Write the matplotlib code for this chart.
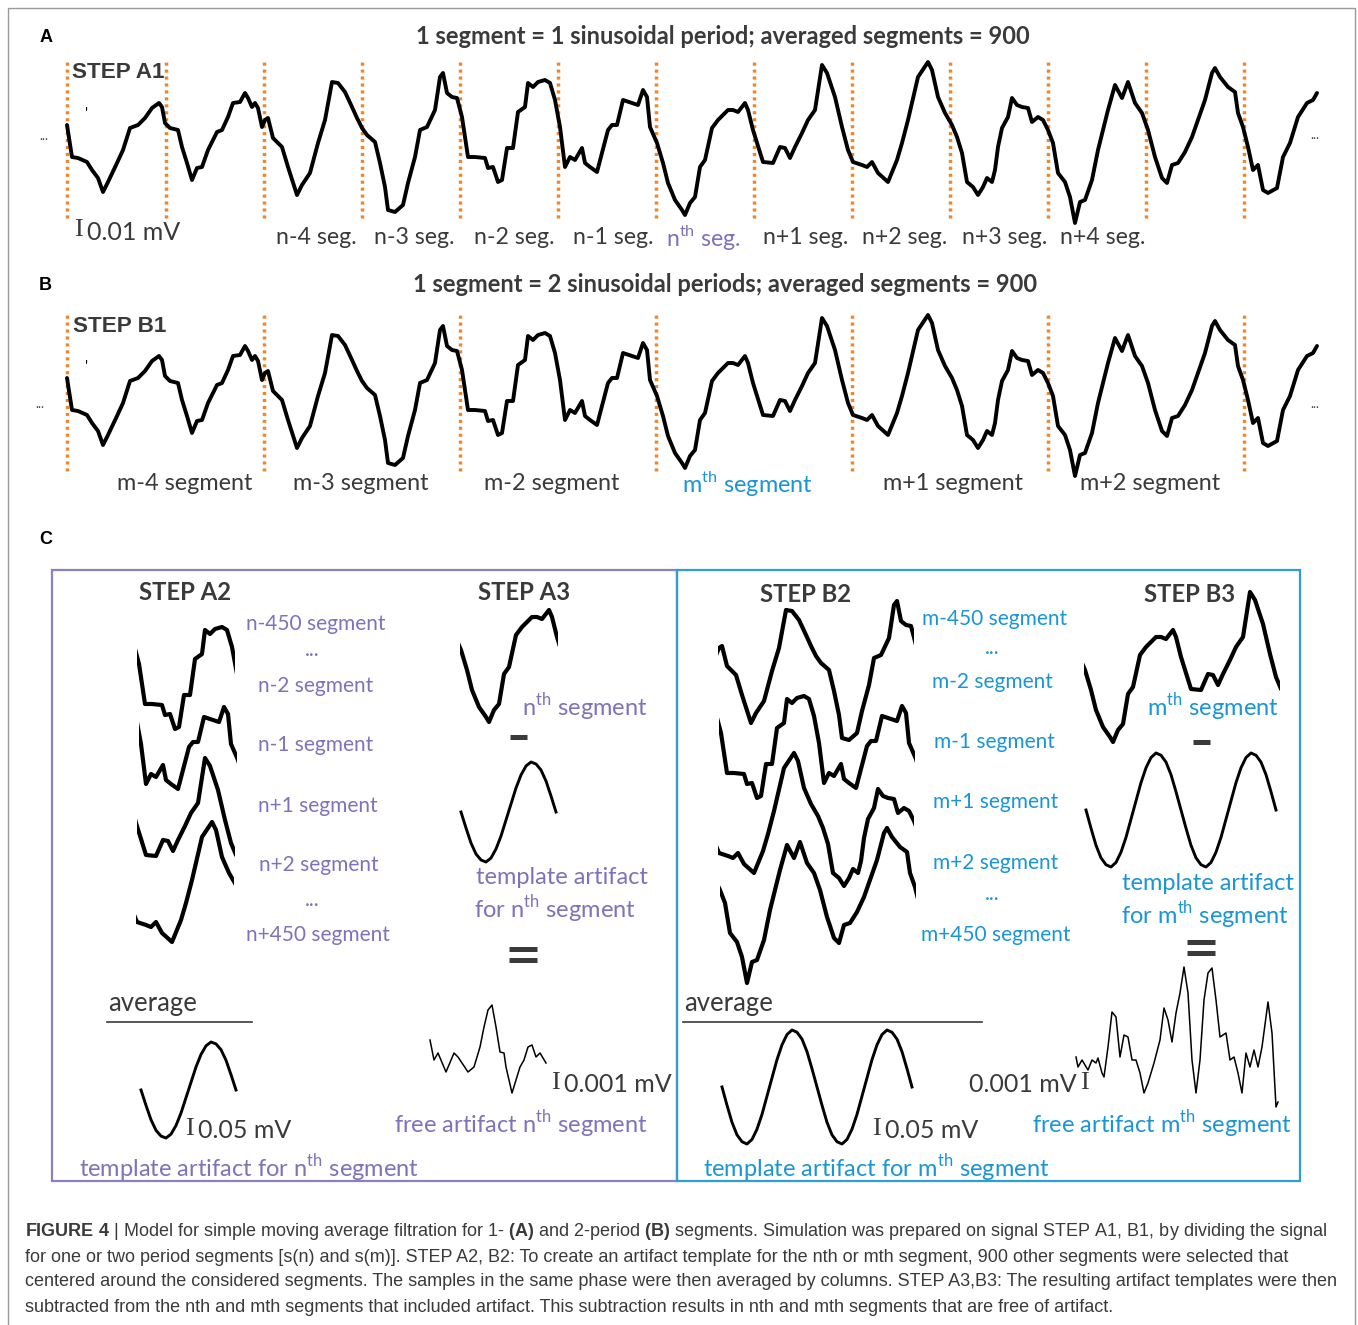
import numpy as np
import matplotlib.pyplot as plt
from matplotlib.patches import Rectangle

plt.rcParams['font.family'] = ['Lato', 'DejaVu Sans']
plt.rcParams['mathtext.fontset'] = 'custom'
plt.rcParams['mathtext.rm'] = 'Lato'
plt.rcParams['mathtext.bf'] = 'Liberation Sans:bold'

W, H = 1358, 1325
PURPLE = '#7F72BA'
BLUE = '#1A95D5'
ORANGE = '#F0862A'
DARK = '#3A3A3A'

# --- signal STEP A1 / B1 (sample index, amplitude) ---
sig_t = [67, 72, 78, 87, 92, 98, 103, 108, 117, 123, 130, 138, 145, 152, 159, 162, 165, 170,
         178, 182, 187, 192, 197, 202, 208, 217, 222, 228, 233, 240, 245, 248, 252, 255, 258,
         262, 265, 268, 273, 282, 288, 297, 302, 310, 318, 325, 332, 338, 345, 352, 357, 362,
         367, 375, 380, 385, 388, 395, 403, 408, 415, 420, 427, 435, 440, 443, 447, 452, 457,
         462, 468, 475, 485, 488, 493, 498, 502, 507, 513, 518, 525, 528, 533, 538, 545, 550,
         555, 560, 565, 570, 575, 582, 585, 590, 597, 602, 608, 612, 617, 623, 632, 638, 643,
         647, 650, 657, 663, 668, 675, 682, 685, 690, 695, 700, 705, 712, 718, 728, 733, 738,
         745, 748, 753, 763, 773, 780, 785, 790, 795, 802, 808, 815, 822, 827, 835, 842, 848,
         853, 862, 867, 872, 878, 888, 897, 902, 908, 918, 928, 932, 938, 945, 952, 957, 962,
         967, 973, 978, 983, 987, 992, 995, 998, 1002, 1008, 1012, 1017, 1022, 1028, 1032,
         1038, 1043, 1048, 1053, 1058, 1065, 1070, 1075, 1080, 1085, 1092, 1098, 1108, 1115,
         1122, 1128, 1135, 1142, 1148, 1155, 1162, 1167, 1172, 1178, 1185, 1192, 1198, 1205,
         1212, 1215, 1220, 1228, 1235, 1238, 1243, 1248, 1253, 1258, 1263, 1268, 1277, 1283,
         1290, 1298, 1307, 1313, 1317]
sig_v = [105, 73, 72, 68, 60, 52, 38, 48, 67, 80, 102, 105, 112, 122, 127, 123, 107, 102,
         100, 83, 67, 50, 62, 63, 80, 98, 100, 113, 127, 128, 137, 132, 123, 127, 122,
         103, 110, 112, 92, 83, 63, 35, 45, 57, 87, 110, 148, 147, 138, 123, 112, 102,
         95, 88, 67, 43, 20, 18, 25, 47, 73, 100, 103, 120, 153, 157, 137, 133, 132,
         113, 73, 73, 72, 62, 63, 48, 50, 82, 82, 118, 123, 147, 143, 148, 150, 147,
         130, 103, 63, 73, 70, 82, 67, 63, 58, 77, 100, 105, 105, 130, 127, 125, 140,
         133, 103, 87, 67, 47, 30, 20, 15, 27, 33, 63, 70, 102, 110, 120, 120, 118,
         127, 120, 100, 68, 67, 83, 82, 72, 83, 97, 110, 120, 165, 157, 133, 103, 80,
         68, 65, 63, 68, 57, 48, 70, 87, 110, 153, 168, 160, 133, 117, 105, 93, 77,
         48, 43, 35, 43, 52, 48, 60, 83, 102, 113, 132, 125, 123, 122, 108,
         113, 110, 100, 87, 57, 48, 33, 7, 28, 30, 50, 80, 120, 145,
         132, 148, 127, 117, 100, 73, 52, 47, 65, 67, 78, 93, 110, 130,
         157, 162, 153, 143, 138, 117, 103, 83, 60, 65, 40, 37, 42, 73,
         87, 113, 127, 130, 137]
seg_edges = [67, 166, 264, 362, 460, 558, 656, 754, 852, 950, 1048, 1146, 1244]

labels_a = ['n-4 seg.', 'n-3 seg.', 'n-2 seg.', 'n-1 seg.', r'n$^{\mathrm{th}}$ seg.',
            'n+1 seg.', 'n+2 seg.', 'n+3 seg.', 'n+4 seg.']
labels_b = ['m-4 segment', 'm-3 segment', 'm-2 segment', r'm$^{\mathrm{th}}$ segment',
            'm+1 segment', 'm+2 segment']

# averaged artifact template, one period
tmpl_t = [0, 5, 10, 15, 20, 25, 30, 35, 40, 45, 50, 55, 60, 65, 70, 75, 80, 85, 90, 95]
tmpl_v = [0, -16, -31, -42, -48, -50, -46, -37, -24, -8, 8, 24, 37, 46, 50, 48, 42, 31, 16, 0]
tmpl2_t = tmpl_t + [t + 95 for t in tmpl_t[1:]]
tmpl2_v = tmpl_v + tmpl_v[1:]

# artifact-free segments
free_a_t = [0, 4, 8, 16, 24, 28, 38, 44, 50, 54, 58, 62, 66, 70, 74, 76, 82, 86, 90, 94,
            98, 102, 106, 110, 116]
free_a_v = [60, 40, 47, 28, 47, 43, 28, 33, 53, 73, 90, 95, 73, 48, 47, 33, 7, 20, 33, 40,
            53, 55, 43, 47, 37]
free_b_t = [0, 2, 6, 12, 16, 20, 22, 26, 28, 32, 36, 40, 44, 48, 52, 56, 60, 64, 68, 72,
            78, 84, 88, 92, 96, 100, 104, 108, 112, 116, 120, 124, 128, 132, 136, 140, 144,
            150, 154, 158, 162, 166, 170, 174, 178, 182, 186, 192, 196, 200, 202]
free_b_v = [53, 43, 50, 40, 50, 47, 52, 37, 33, 63, 98, 93, 53, 75, 73, 50, 50, 37, 17, 27,
            47, 70, 102, 90, 68, 97, 117, 143, 117, 50, 17, 50, 110, 137, 142, 110, 73,
            77, 50, 53, 37, 17, 57, 43, 60, 43, 63, 108, 77, 3, 8]

fig = plt.figure(figsize=(W / 100, H / 100), dpi=100)
ov = fig.add_axes([0, 0, 1, 1])
ov.set_xlim(0, W)
ov.set_ylim(H, 0)
ov.axis('off')


def box_axes(x0, y0, x1, y1, xlim, ylim):
    ax = fig.add_axes([x0 / W, 1 - y1 / H, (x1 - x0) / W, (y1 - y0) / H])
    ax.set_xlim(*xlim)
    ax.set_ylim(*ylim)
    ax.axis('off')
    return ax


def trace_axes(t0, t1, left, base, sx=1.0, sy=1.0, vlo=-10, vhi=200):
    # 1 sample = sx px, 1 amplitude unit = sy px; base = pixel row of v = 0
    return box_axes(left, base - vhi * sy, left + (t1 - t0) * sx, base - vlo * sy,
                    (t0, t1), (vlo, vhi))


# ---- A and B: full signal ----
for top, edges in [(40, seg_edges), (293, seg_edges[::2])]:
    ax = box_axes(60, top, 1330, top + 200, (60, 1330), (-10, 190))
    ax.vlines(edges, 12, 168, colors=ORANGE, lw=2.5, linestyles=(0, (0.9, 1.1)))
    ax.plot(sig_t, sig_v, color='black', lw=2.8, solid_joinstyle='round',
            solid_capstyle='round')
    ov.text(87, top + 74, "'", fontsize=11, ha='center', va='center', color='black')

# panel letters and titles
for x, y, s in [(46, 37, 'A'), (45, 286, 'B'), (46, 539, 'C')]:
    ov.text(x, y, s, fontsize=13, fontweight='bold', family='Liberation Sans',
            ha='center', va='center', color='black')
ov.text(723, 36, '1 segment = 1 sinusoidal period; averaged segments = 900', fontsize=17,
        fontweight='bold', ha='center', va='center', color=DARK)
ov.text(725, 285, '1 segment = 2 sinusoidal periods; averaged segments = 900', fontsize=17,
        fontweight='bold', ha='center', va='center', color=DARK)
ov.text(72, 72, 'STEP A1', fontsize=16.2, fontweight='bold', family='Liberation Sans',
        ha='left', va='center', color=DARK)
ov.text(73, 327, 'STEP B1', fontsize=16.2, fontweight='bold', family='Liberation Sans',
        ha='left', va='center', color=DARK)
ov.text(78, 230, 'I', fontsize=19, family='Liberation Serif', ha='center', va='center',
        color=DARK)
ov.text(87, 233, '0.01 mV', fontsize=18, ha='left', va='center', color=DARK)
for x, y in [(44, 136), (1315, 135), (40, 404), (1315, 404)]:
    ov.text(x, y, '...', fontsize=9, ha='center', va='center', color=DARK)

for cx, s in zip([316, 414, 514, 613, 703, 806, 905, 1005, 1103], labels_a):
    ov.text(cx, 238, s, fontsize=16.7, ha='center', va='center',
            color=PURPLE if 'th' in s else DARK)
for cx, s in zip([185, 361, 552, 748, 953, 1150], labels_b):
    ov.text(cx, 484, s, fontsize=16.9, ha='center', va='center',
            color=BLUE if 'th' in s else DARK)

# ---- C: boxes ----
ov.add_patch(Rectangle((52, 570), 625, 611, fill=False, ec='#8B80C2', lw=1.6))
ov.add_patch(Rectangle((677, 570), 623, 611, fill=False, ec='#2C9FDA', lw=1.6))

# segments taken from the signal: (t0, t1, left px, baseline px)
for t0, t1, left, base in [(460, 558, 137, 777), (558, 656, 139, 847),
                           (754, 852, 137, 923), (852, 950, 136, 990),
                           (656, 754, 460, 737),
                           (264, 460, 718, 758), (460, 656, 719, 846),
                           (852, 1048, 718, 921), (1048, 1244, 720, 990),
                           (656, 852, 1084, 757)]:
    ax = trace_axes(t0, t1, left, base)
    ax.plot(sig_t, sig_v, color='black', lw=3.0, solid_joinstyle='round')

# templates
for tt, tv, left, base, sy in [(tmpl_t, tmpl_v, 461, 812, 1.0),
                               (tmpl_t, tmpl_v, 141, 1090, 0.96),
                               (tmpl2_t, tmpl2_v, 1086, 810, 1.14),
                               (tmpl2_t, tmpl2_v, 722, 1087, 1.14)]:
    ax = trace_axes(tt[0], tt[-1], left, base, sy=sy, vlo=-60, vhi=60)
    ax.plot(tt, tv, color='black', lw=2.1, clip_on=False, solid_joinstyle='round')

# artifact-free results
ax = trace_axes(0, 116, 430, 1100, vlo=0, vhi=100)
ax.plot(free_a_t, free_a_v, color='black', lw=1.1, clip_on=False)
ax = trace_axes(0, 202, 1076, 1110, vlo=0, vhi=150)
ax.plot(free_b_t, free_b_v, color='black', lw=1.1, clip_on=False)

# C text
for x, y, s in [(185, 593, 'STEP A2'), (524, 593, 'STEP A3'), (806, 594, 'STEP B2'),
                (1190, 595, 'STEP B3')]:
    ov.text(x, y, s, fontsize=17.2, fontweight='bold', ha='center', va='center', color=DARK)

a2_small = [('n-450 segment', 316, 624), ('...', 312, 650), ('n-2 segment', 316, 686),
            ('n-1 segment', 316, 745), ('n+1 segment', 318, 806), ('n+2 segment', 319, 865),
            ('...', 312, 900), ('n+450 segment', 318, 935)]
a_big = [(r'n$^{\mathrm{th}}$ segment', 585, 707), ('template artifact', 562, 878),
         (r'for n$^{\mathrm{th}}$ segment', 555, 909),
         (r'template artifact for n$^{\mathrm{th}}$ segment', 249, 1168),
         (r'free artifact n$^{\mathrm{th}}$ segment', 521, 1124)]
b2_small = [('m-450 segment', 995, 619), ('...', 992, 648), ('m-2 segment', 992, 682),
            ('m-1 segment', 994, 742), ('m+1 segment', 996, 802), ('m+2 segment', 996, 863),
            ('...', 992, 894), ('m+450 segment', 996, 935)]
b_big = [(r'm$^{\mathrm{th}}$ segment', 1213, 707), ('template artifact', 1208, 884),
         (r'for m$^{\mathrm{th}}$ segment', 1205, 915),
         (r'template artifact for m$^{\mathrm{th}}$ segment', 876, 1168),
         (r'free artifact m$^{\mathrm{th}}$ segment', 1162, 1124)]
for labs, col, fs in [(a2_small, PURPLE, 15), (a_big, PURPLE, 17),
                      (b2_small, BLUE, 15), (b_big, BLUE, 17)]:
    for s, x, y in labs:
        ov.text(x, y, s, fontsize=fs, ha='center', va='center', color=col)

# minus and equals signs between the steps
for x0, x1, y in [(510, 527, 737), (1193, 1210, 742)]:
    ov.plot([x0, x1], [y, y], color=DARK, lw=3.6, solid_capstyle='butt')
for x0, x1, y in [(509, 537, 949), (1187, 1215, 942)]:
    ov.plot([x0, x1], [y, y], color=DARK, lw=3.6, solid_capstyle='butt')
    ov.plot([x0, x1], [y + 11, y + 11], color=DARK, lw=3.6, solid_capstyle='butt')

for x0, x1 in [(107, 252), (683, 982)]:
    ov.plot([x0, x1], [1022, 1022], color=DARK, lw=1.2)
    ov.text(x0 + 1, 1004, 'average', fontsize=18.5, ha='left', va='center', color=DARK)

for ix, tx, y, s in [(189, 198, 1131, '0.05 mV'), (876, 885, 1131, '0.05 mV'),
                     (555, 564, 1085, '0.001 mV')]:
    ov.text(ix, y - 2, 'I', fontsize=19, family='Liberation Serif', ha='center',
            va='center', color=DARK)
    ov.text(tx, y, s, fontsize=18, ha='left', va='center', color=DARK)
ov.text(1077, 1085, '0.001 mV', fontsize=18, ha='right', va='center', color=DARK)
ov.text(1084, 1083, 'I', fontsize=19, family='Liberation Serif', ha='center', va='center',
        color=DARK)

# caption
caption = [
    r'$\mathbf{FIGURE\ 4}$ | Model for simple moving average filtration for 1- $\mathbf{(A)}$'
    r' and 2-period $\mathbf{(B)}$ segments. Simulation was prepared on signal STEP A1, B1,'
    ' by dividing the signal',
    'for one or two period segments [s(n) and s(m)]. STEP A2, B2: To create an artifact '
    'template for the nth or mth segment, 900 other segments were selected that',
    'centered around the considered segments. The samples in the same phase were then '
    'averaged by columns. STEP A3,B3: The resulting artifact templates were then',
    'subtracted from the nth and mth segments that included artifact. This subtraction '
    'results in nth and mth segments that are free of artifact.',
]
for i, line in enumerate(caption):
    ov.text(25, 1232 + 25 * i, line, fontsize=13, family='Liberation Sans',
            ha='left', va='center', color='#3A3A3A')

ov.add_patch(Rectangle((8, 8), 1347, 1340, fill=False, ec='#9A9A9A', lw=1.0))

fig.savefig('out.png', dpi=100)
